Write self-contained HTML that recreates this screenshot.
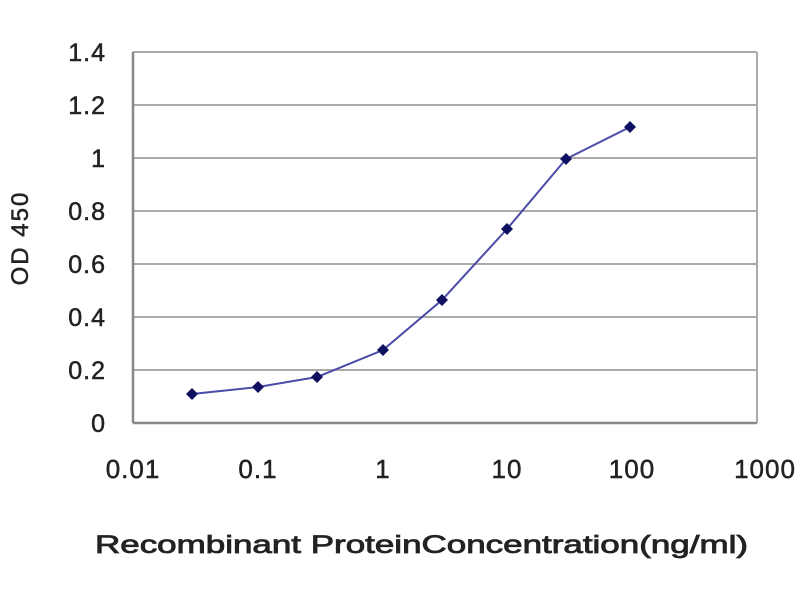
<!DOCTYPE html>
<html><head><style>
body{margin:0;background:#fff;}
svg text{font-family:"Liberation Sans",sans-serif;fill:#222;}
</style></head><body>
<svg width="800" height="600" xmlns="http://www.w3.org/2000/svg">
<rect width="800" height="600" fill="#fff"/>
<g stroke="#aaa" stroke-width="2">
<line x1="133" y1="52" x2="757" y2="52"/>
<line x1="133" y1="105" x2="757" y2="105"/>
<line x1="133" y1="158" x2="757" y2="158"/>
<line x1="133" y1="211" x2="757" y2="211"/>
<line x1="133" y1="264" x2="757" y2="264"/>
<line x1="133" y1="317" x2="757" y2="317"/>
<line x1="133" y1="370" x2="757" y2="370"/>
<line x1="757" y1="52" x2="757" y2="423"/>
</g>
<g stroke="#888" stroke-width="2.5">
<line x1="133" y1="52" x2="133" y2="423"/>
<line x1="133" y1="423" x2="757" y2="423"/>
</g>
<g font-size="25" text-anchor="end" letter-spacing="1" stroke="#222" stroke-width="0.5">
<text x="106" y="61">1.4</text>
<text x="106" y="114">1.2</text>
<text x="106" y="167">1</text>
<text x="106" y="220">0.8</text>
<text x="106" y="273">0.6</text>
<text x="106" y="326">0.4</text>
<text x="106" y="379">0.2</text>
<text x="106" y="432">0</text>
</g>
<g font-size="26" text-anchor="middle" letter-spacing="1" stroke="#222" stroke-width="0.5">
<text x="133" y="478">0.01</text>
<text x="258" y="478">0.1</text>
<text x="383" y="478">1</text>
<text x="507" y="478">10</text>
<text x="632" y="478">100</text>
<text x="765" y="478">1000</text>
</g>
<text x="95" y="553" font-size="25" fill="#222" stroke="#222" stroke-width="0.8" textLength="653" lengthAdjust="spacingAndGlyphs">Recombinant ProteinConcentration(ng/ml)</text>
<text transform="translate(28,238) rotate(-90)" font-size="24" text-anchor="middle" letter-spacing="2" stroke="#222" stroke-width="0.5">OD 450</text>
<polyline fill="none" stroke="#4a4aa8" stroke-width="2" points="192,394 258,387 317,377 383,350 442,300 507,229 566,159 630,127"/>
<g fill="#101060">
<path d="M192,388 l6,6 -6,6 -6,-6z"/>
<path d="M258,381 l6,6 -6,6 -6,-6z"/>
<path d="M317,371 l6,6 -6,6 -6,-6z"/>
<path d="M383,344 l6,6 -6,6 -6,-6z"/>
<path d="M442,294 l6,6 -6,6 -6,-6z"/>
<path d="M507,223 l6,6 -6,6 -6,-6z"/>
<path d="M566,153 l6,6 -6,6 -6,-6z"/>
<path d="M630,121 l6,6 -6,6 -6,-6z"/>
</g>
</svg>
</body></html>
